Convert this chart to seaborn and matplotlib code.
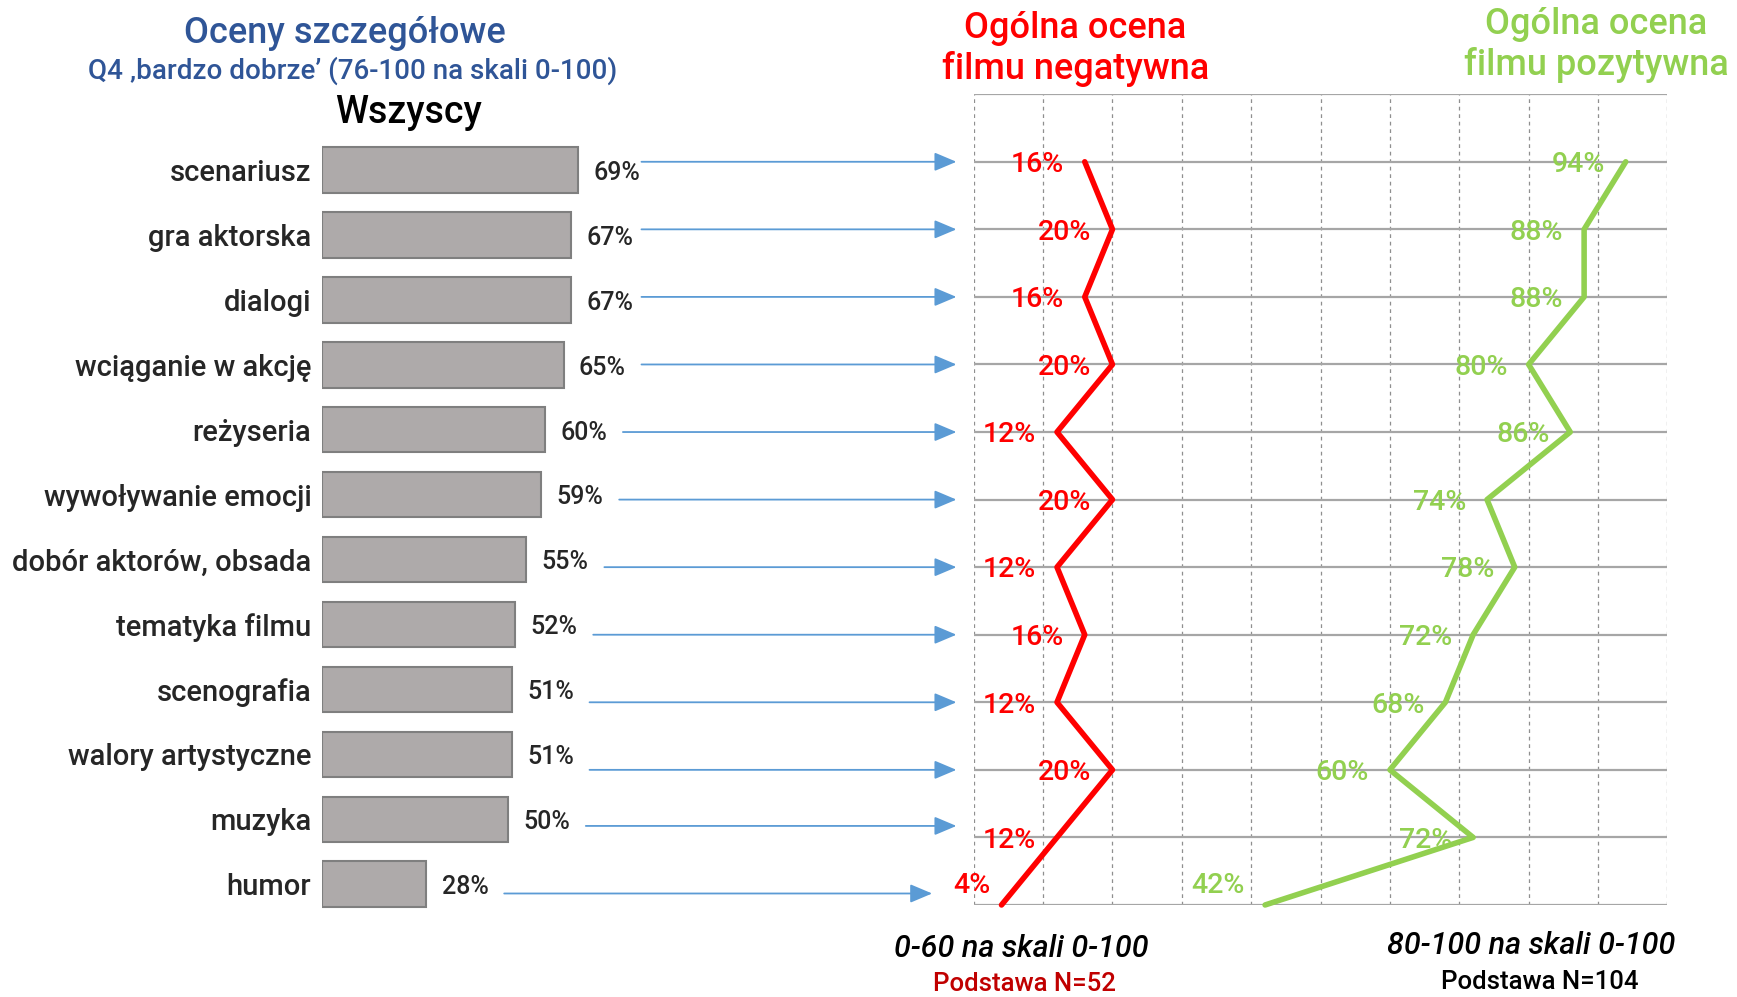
import numpy as np
import matplotlib
matplotlib.use('Agg')
import matplotlib.pyplot as plt
import matplotlib.transforms as mtransforms
import seaborn as sns

categories = ['scenariusz', 'gra aktorska', 'dialogi', 'wciąganie w akcję', 'reżyseria',
              'wywoływanie emocji', 'dobór aktorów, obsada', 'tematyka filmu', 'scenografia',
              'walory artystyczne', 'muzyka', 'humor']
overall = [69, 67, 67, 65, 60, 59, 55, 52, 51, 51, 50, 28]
negative = [16, 20, 16, 20, 12, 20, 12, 16, 12, 20, 12, 4]
positive = [94, 88, 88, 80, 86, 74, 78, 72, 68, 60, 72, 42]

BLUE = '#2F5597'
RED = '#FF0000'
GREEN = '#92D050'
BAR = '#AEAAAA'
EDGE = '#7F7F7F'
ARROW = '#5B9BD5'

sns.set_style('white')
plt.rcParams['font.family'] = ['Roboto', 'DejaVu Sans']
plt.rcParams['font.weight'] = 'medium'

fig = plt.figure(figsize=(17.37, 9.97), dpi=100)
ax_bar = fig.add_axes([0.1856, 0.0806, 0.2136, 0.7814])
ax_line = fig.add_axes([0.5606, 0.0923, 0.3993, 0.8132])

# left: bars for all respondents
sns.barplot(x=overall, y=categories, orient='h', color=BAR, edgecolor=EDGE,
            linewidth=1.5, width=0.7, saturation=1, ax=ax_bar)
ax_bar.set_xlim(0, 100)
ax_bar.set_ylim(11.5, -0.5)
ax_bar.set_xticks([])
ax_bar.set_xlabel('')
ax_bar.set_ylabel('')
ax_bar.tick_params(axis='y', length=0, pad=8, labelsize=21)
for s in ax_bar.spines.values():
    s.set_visible(False)
for i, v in enumerate(overall):
    ax_bar.annotate(f'{v}%', (v, i), xytext=(11, -2), textcoords='offset points',
                    ha='left', va='center', fontsize=18)

# right: negative / positive lines
ys = np.arange(len(categories))
sns.lineplot(x=negative, y=ys, sort=False, estimator=None, color=RED, lw=4, ax=ax_line)
sns.lineplot(x=positive, y=ys, sort=False, estimator=None, color=GREEN, lw=4, ax=ax_line)
for ln in ax_line.lines:
    ln.set_clip_on(False)
ax_line.set_xlim(0, 100)
ax_line.set_ylim(11, -1)
ax_line.set_xticks(np.arange(0, 101, 10))
ax_line.set_yticks(np.arange(-1, 12))
ax_line.tick_params(length=0, labelbottom=False, labelleft=False)
ax_line.set_axisbelow(True)
ax_line.grid(axis='y', color='#A6A6A6', lw=1.6, ls='-')
ax_line.grid(axis='x', color='#8F8F8F', lw=0.9, ls=(0, (3, 3)))
for s in ax_line.spines.values():
    s.set_visible(False)

last = len(categories) - 1
for i, (n, p) in enumerate(zip(negative, positive)):
    dy = 14 if i == last else -2
    ax_line.annotate(f'{n}%', (n, i), xytext=(-8 if i == last else -15, dy),
                     textcoords='offset points', ha='right', va='center',
                     fontsize=20.5, color=RED)
    ax_line.annotate(f'{p}%', (p, i), xytext=(-15, dy), textcoords='offset points',
                     ha='right', va='center', fontsize=20.5, color=GREEN)

# arrows linking the two panels
blend = mtransforms.blended_transform_factory(ax_bar.transData, ax_line.transData)
for i, v in enumerate(overall):
    yy = i if i < 10 else i - 0.17
    tip = -6 if i == last else -2.5
    ax_bar.annotate('', xy=(tip, yy), xycoords=ax_line.transData,
                    xytext=(min(v + 21, 86), yy), textcoords=blend,
                    arrowprops=dict(arrowstyle='-|>,head_length=0.9,head_width=0.38',
                                    mutation_scale=15, color=ARROW, lw=1.3,
                                    shrinkA=0, shrinkB=0))

# titles
fig.text(0.1987, 0.966, 'Oceny szczegółowe', ha='center', va='center', fontsize=26, color=BLUE)
fig.text(0.203, 0.929, 'Q4 \u201abardzo dobrze\u2019 (76-100 na skali 0-100)',
         ha='center', va='center', fontsize=20, color=BLUE)
fig.text(0.2353, 0.887, 'Wszyscy', ha='center', va='center', fontsize=27, color='black')
fig.text(0.619, 0.951, 'Ogólna ocena\nfilmu negatywna', ha='center', va='center',
         fontsize=26, color=RED, linespacing=1.2)
fig.text(0.919, 0.955, 'Ogólna ocena\nfilmu pozytywna', ha='center', va='center',
         fontsize=26, color=GREEN, linespacing=1.2)
fig.text(0.588, 0.0489, '0-60 na skali 0-100', ha='center', va='center',
         fontsize=22, style='italic', color='black')
fig.text(0.590, 0.0133, 'Podstawa N=52', ha='center', va='center', fontsize=18.5, color='#C00000')
fig.text(0.8814, 0.052, '80-100 na skali 0-100', ha='center', va='center',
         fontsize=22, style='italic', color='black')
fig.text(0.8865, 0.0155, 'Podstawa N=104', ha='center', va='center', fontsize=18.5, color='black')

fig.savefig('out.png', dpi=100)
